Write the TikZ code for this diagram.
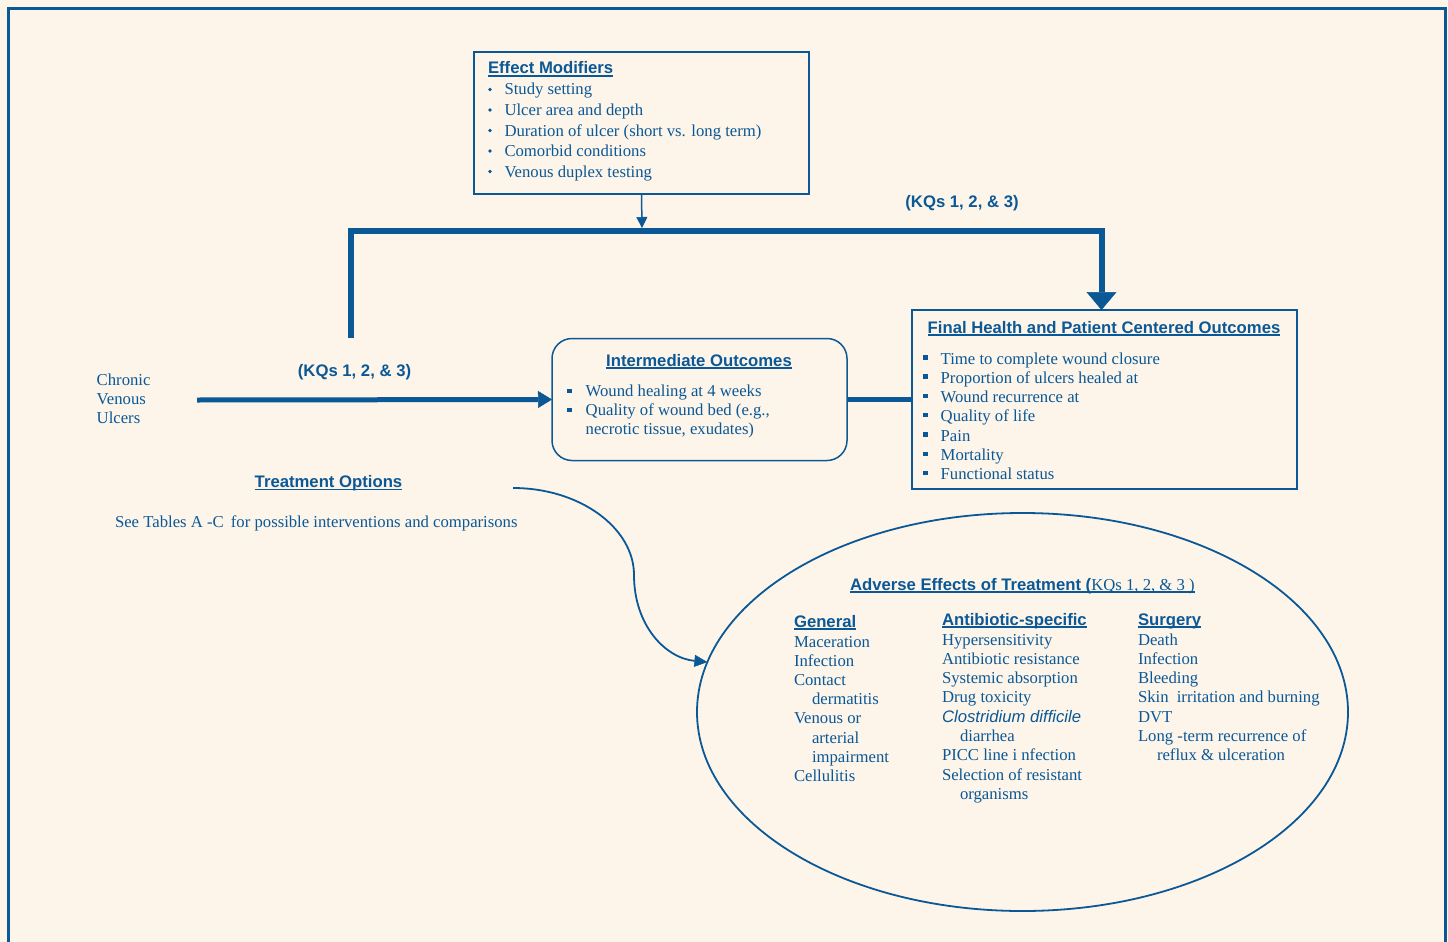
\documentclass[tikz,border=0pt]{standalone}
\usepackage{fontspec}
\setmainfont{Liberation Serif}
\newfontfamily\hdfont{Liberation Sans}
\usetikzlibrary{arrows.meta,shapes.geometric}
\definecolor{bl}{HTML}{0B5896}
\definecolor{cream}{HTML}{FDF5EA}
\newcommand\ulbox[1]{\setbox0\hbox{#1}\rlap{\rule[-2.8pt]{\wd0}{1.5pt}}\box0}
\begin{document}
\begin{tikzpicture}[x=1pt,y=-1pt,
  every node/.style={inner sep=0pt, outer sep=0pt, text=bl},
  txt/.style={anchor=base west, font=\fontsize{16.7}{19}\selectfont},
  hd/.style={anchor=base west, font=\hdfont\bfseries\fontsize{16.7}{19}\selectfont},
  thinbox/.style={draw=bl, line width=1.5pt, rectangle},
  thickline/.style={draw=bl, line width=6pt},
  midline/.style={draw=bl, line width=5pt}]
\fill[cream] (0,0) rectangle (1448,942);
\useasboundingbox (0,0) rectangle (1448,942);
% frame
\draw[bl, line width=3pt] (8.3,942) -- (8.3,8.3) -- (1445.5,8.3) -- (1445.5,942);

% boxes
\node[thinbox, minimum width=335pt, minimum height=142pt, anchor=north west] (em) at (474,52) {};
\node[thinbox, rounded corners=20pt, minimum width=295pt, minimum height=122pt, anchor=north west] (io) at (552,338.5) {};
\node[thinbox, minimum width=385pt, minimum height=179pt, anchor=north west] (fo) at (912,310) {};
\node[draw=bl, line width=1.8pt, ellipse, minimum width=651pt, minimum height=398pt] (ae) at (1022.5,712) {};

% connectors
\coordinate (bt) at (642,228);
\coordinate (bk0) at (351.3,338);
\coordinate (bk1) at (351.3,231);
\coordinate (bk2) at (1101.5,231);
\coordinate (cv) at (197,400);
\coordinate (tc) at (513,488);
\draw[bl, line width=1.5pt, -{Triangle[length=11pt,width=11pt,line width=0.5pt]}] (em.south) -- (bt);
\draw[thickline, line join=miter, -{Triangle[length=18pt,width=30pt,line width=0.5pt]}] (bk0) -- (bk1) -- (bk2) -- (bk2 |- fo.north);
\draw[midline, -{Triangle[length=14pt,width=17pt,line width=0.5pt]}] (cv) -- (io.west);
\draw[midline] (io.east) -- (io.east -| fo.west);
\draw[bl, line width=1.8pt, -{Triangle[length=13pt,width=12pt,line width=0.5pt]}] (tc) .. controls (580,488) and (634,528) .. (634,575) .. controls (634,625) and (665,658) .. (ae.171.5);

% Effect modifiers
\node[hd] (emt) at (488,74) {\ulbox{Effect Modifiers}};
\foreach \t [count=\i] in {Study setting, Ulcer area and depth, Duration of ulcer (short vs. long term), Comorbid conditions, Venous duplex testing}{
  \node[txt] (em\i) at ({504.5},{95+20.5*(\i-1)}) {\t};
  \fill[bl] ({490},{89.5+20.5*(\i-1)}) circle (1.9);
}

% KQ labels
\node[hd, anchor=base] (kq1) at (962,207) {(KQs 1, 2, \& 3)};
\node[hd, anchor=base] (kq2) at (354.5,376) {(KQs 1, 2, \& 3)};

% Intermediate outcomes
\node[hd, anchor=base] (iot) at (699,366) {\ulbox{Intermediate Outcomes}};
\node[txt] (io1) at (585.7,396.7) {Wound healing at 4 weeks};
\node[txt] (io2) at (585.7,415.7) {Quality of wound bed (e.g.,};
\node[txt] (io3) at (585.7,434.5) {necrotic tissue, exudates)};
\fill[bl] (567,388.5) rectangle +(4.5,4.5);
\fill[bl] (567,407.5) rectangle +(4.5,4.5);

% Final outcomes
\node[hd, anchor=base] (fot) at (1104,333) {\ulbox{Final Health and Patient Centered Outcomes}};
\foreach \t [count=\i] in {Time to complete wound closure, Proportion of ulcers healed at, Wound recurrence at, Quality of life, Pain, Mortality, Functional status}{
  \node[txt] (fo\i) at ({940.7},{364+19.3*(\i-1)}) {\t};
  \fill[bl] ({923},{355+19.3*(\i-1)}) rectangle +(4.5,4.5);
}

% Chronic venous ulcers
\node[txt] (cv1) at (96.7,385) {Chronic};
\node[txt] (cv2) at (96.7,404) {Venous};
\node[txt] (cv3) at (96.7,423) {Ulcers};

% Treatment options
\node[hd, anchor=base] (tot) at (328.5,487.5) {\ulbox{Treatment Options}};
\node[txt] (tos) at (115,527) {See Tables A -C\hspace{3pt} for possible interventions and comparisons};

% Adverse effects
\node[hd] (aet) at (850,590) {\ulbox{Adverse Effects of Treatment (\normalfont KQs 1, 2, \& 3 )}};
\node[hd] (g0) at (794,627) {\ulbox{General}};
\node[hd] (a0) at (942,625) {\ulbox{Antibiotic-specific}};
\node[hd] (s0) at (1138,625) {\ulbox{Surgery}};
\foreach \x/\t [count=\i] in {794/Maceration, 794/Infection, 794/Contact, 812/dermatitis, 794/Venous or, 812/arterial, 812/impairment, 794/Cellulitis}{
  \node[txt] (g\i) at ({\x},{647+19.2*(\i-1)}) {\t};
}
\foreach \x/\t [count=\i] in {942/Hypersensitivity, 942/Antibiotic resistance, 942/Systemic absorption, 942/Drug toxicity, 942/{\hdfont\itshape Clostridium difficile}, 960/diarrhea, 942/PICC line i nfection, 942/Selection of resistant, 960/organisms}{
  \node[txt] (a\i) at ({\x},{645+19.3*(\i-1)}) {\t};
}
\foreach \x/\t [count=\i] in {1138/Death, 1138/Infection, 1138/Bleeding, 1138/Skin\hspace{4pt} irritation and burning, 1138/DVT, 1138/Long -term recurrence of, 1157/reflux \& ulceration}{
  \node[txt] (s\i) at ({\x},{645+19.3*(\i-1)}) {\t};
}
\end{tikzpicture}
\end{document}
